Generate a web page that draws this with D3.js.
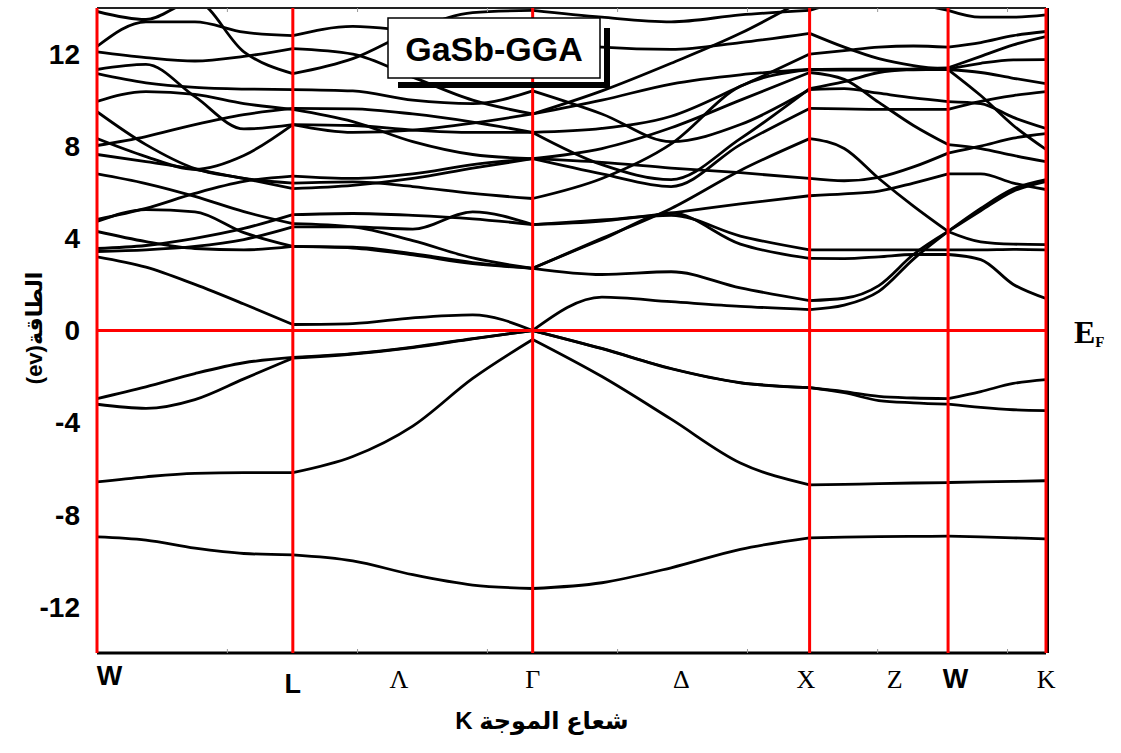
<!DOCTYPE html>
<html>
<head>
<meta charset="utf-8">
<script src="https://cdn.jsdelivr.net/npm/d3@7"></script>
<style>
  html, body { margin: 0; padding: 0; background: #fff; }
  svg { display: block; }
</style>
</head>
<body>
<svg id="chart" width="1121" height="753"></svg>
<script>
// k-path W-L-Γ-X-W-K (units of 2π/a), 4 steps per segment (3 on W-K)
const kGrid = [0, 0.1768, 0.3536, 0.5303, 0.7071, 0.9236, 1.1401, 1.3566, 1.5731,
  1.8231, 2.0731, 2.3231, 2.5731, 2.6981, 2.8231, 2.9481, 3.0731, 3.1910, 3.3088, 3.4267];
const symIndex = [0, 4, 8, 12, 16, 19];
const symK = [0, 0.7071, 1.5731, 2.5731, 3.0731, 3.4267];

const xLabels = ['W', 'L', 'Λ', 'Γ', 'Δ', 'X', 'Z', 'W', 'K'];
const xLabelK = [0.045, 0.7071, 1.09, 1.5731, 2.11, 2.56, 2.88, 3.10, 3.427];
const yTicks = [12, 8, 4, 0, -4, -8, -12];
const minorTicks = [0.469, 0.939, 1.408, 1.878, 2.347, 2.817, 3.286];

// energies (eV) at each kGrid point
const valenceBands = [
  [-8.96, -9.1, -9.45, -9.68, -9.74, -10.0, -10.6, -11.05, -11.2, -10.95, -10.3, -9.5, -9.0, -8.97, -8.95, -8.94, -8.93, -8.96, -9.0, -9.05],
  [-6.57, -6.35, -6.2, -6.17, -6.17, -5.47, -4.15, -2.08, -0.39, -2.0, -3.85, -5.75, -6.7, -6.68, -6.65, -6.62, -6.6, -6.57, -6.55, -6.52],
  [-2.96, -2.45, -1.87, -1.4, -1.17, -1.0, -0.72, -0.35, 0, -0.78, -1.65, -2.26, -2.48, -2.65, -2.86, -2.93, -2.96, -2.65, -2.3, -2.13],
  [-3.2, -3.38, -3.0, -2.1, -1.2, -1.02, -0.74, -0.36, 0, -0.79, -1.66, -2.27, -2.48, -2.7, -3.04, -3.14, -3.2, -3.34, -3.44, -3.48]
];

const conductionBands = [
  [3.2, 2.75, 2.0, 1.15, 0.26, 0.3, 0.55, 0.68, 0, 1.45, 1.25, 1.05, 0.91, 1.1, 1.7, 3.1, 4.3, 5.2, 6.05, 6.47],
  [3.43, 3.5, 3.65, 3.95, 4.5, 4.5, 4.4, 5.15, 4.6, 4.75, 5.1, 5.5, 5.85, 5.93, 6.05, 6.4, 6.8, 6.8, 6.4, 6.12],
  [3.56, 3.69, 4.0, 4.43, 5.03, 5.08, 5.0, 4.85, 4.6, 4.8, 5.0, 4.1, 3.5, 3.5, 3.5, 3.5, 3.5, 3.5, 3.52, 3.5],
  [4.3, 3.86, 3.56, 3.5, 3.65, 3.62, 3.34, 2.95, 2.7, 2.43, 2.55, 1.85, 1.3, 1.4, 1.95, 3.3, 4.3, 5.3, 6.15, 6.55],
  [4.73, 5.25, 5.15, 4.25, 3.65, 3.58, 3.28, 2.9, 2.7, 3.95, 5.1, 3.75, 3.13, 3.12, 3.2, 3.3, 3.3, 3.08, 2.0, 1.39],
  [4.82, 5.3, 5.95, 6.47, 6.7, 6.6, 6.8, 7.2, 7.46, 7.3, 7.05, 6.85, 6.6, 6.5, 6.65, 7.1, 7.7, 8.0, 8.35, 8.55],
  [6.8, 6.38, 5.82, 5.16, 4.64, 4.5, 3.9, 3.15, 2.7, 4.0, 5.3, 6.95, 8.33, 7.9, 6.6, 5.4, 4.3, 3.85, 3.75, 3.73],
  [7.64, 7.33, 7.0, 6.6, 6.4, 6.45, 6.25, 5.95, 5.73, 6.6, 8.1, 10.6, 11.33, 11.3, 11.3, 11.32, 11.33, 11.2, 10.95, 10.72],
  [8.03, 8.42, 8.94, 9.37, 9.64, 9.62, 9.4, 9.05, 8.6, 7.2, 6.55, 8.33, 10.5, 10.8, 11.2, 11.35, 11.4, 11.9, 12.4, 12.76],
  [8.33, 7.55, 7.0, 7.6, 8.94, 8.9, 8.7, 8.6, 8.6, 8.77, 9.3, 10.6, 12.0, 12.15, 12.3, 12.35, 12.3, 12.5, 12.8, 12.98],
  [9.5, 8.07, 7.03, 6.6, 6.16, 6.3, 6.6, 7.05, 7.46, 6.8, 6.25, 8.07, 9.64, 9.62, 9.6, 9.6, 9.6, 9.95, 10.2, 10.37],
  [9.94, 10.37, 10.25, 9.85, 9.6, 9.07, 8.2, 7.64, 7.46, 7.9, 8.8, 10.0, 11.2, 10.9, 9.9, 8.9, 8.07, 7.9, 7.6, 7.33],
  [11.15, 10.75, 10.55, 10.48, 10.46, 10.4, 10.0, 9.85, 10.4, 9.4, 8.2, 8.94, 10.46, 10.5, 10.3, 10.1, 9.94, 9.85, 9.25, 8.77],
  [11.33, 11.55, 10.15, 8.75, 8.94, 8.6, 8.7, 9.0, 9.4, 10.4, 11.6, 12.9, 14.5, 14.8, 14.8, 14.5, 14.3, 14.5, 14.6, 14.5],
  [12.1, 11.85, 11.7, 11.9, 12.24, 12.0, 11.0, 10.0, 9.4, 10.0, 10.7, 11.1, 11.33, 11.35, 11.35, 11.35, 11.35, 11.6, 11.75, 11.76],
  [12.33, 13.4, 13.4, 12.95, 12.8, 13.2, 13.0, 12.8, 12.6, 12.3, 12.2, 12.5, 12.9, 12.3, 11.8, 11.5, 11.33, 10.2, 8.9, 7.86],
  [13.85, 13.5, 14.3, 12.1, 11.15, 11.8, 13.0, 13.8, 13.9, 13.6, 13.4, 13.7, 13.9, 14.3, 14.5, 14.2, 13.9, 13.6, 13.6, 13.7]
];

const margin = { top: 8, right: 75, bottom: 100, left: 97 };
const width = 1046 - margin.left;
const height = 653 - margin.top;

const svg = d3.select('#chart');
const g = svg.append('g')
  .attr('transform', `translate(${margin.left},${margin.top})`);

const x = d3.scaleLinear().domain([0, 3.4267]).range([0, width]);
const y = d3.scaleLinear().domain([-14, 14]).range([height, 0]);

g.append('clipPath').attr('id', 'plot-clip')
  .append('rect').attr('width', width).attr('height', height);

// Bands, one path per segment so kinks at symmetry points stay sharp
const line = d3.line()
  .x(d => x(d[0]))
  .y(d => y(d[1]))
  .curve(d3.curveMonotoneX);

const bandLayer = g.append('g').attr('clip-path', 'url(#plot-clip)');
valenceBands.concat(conductionBands).forEach(band => {
  for (let s = 0; s < symIndex.length - 1; s++) {
    const pts = [];
    for (let i = symIndex[s]; i <= symIndex[s + 1]; i++) pts.push([kGrid[i], band[i]]);
    bandLayer.append('path')
      .datum(pts)
      .attr('fill', 'none')
      .attr('stroke', '#000')
      .attr('stroke-width', 2.8)
      .attr('d', line);
  }
});

// Frame
g.append('line').attr('x1', 0).attr('x2', width).attr('y1', 0).attr('y2', 0)
  .attr('stroke', '#222').attr('stroke-width', 2);
g.append('line').attr('x1', 0).attr('x2', width).attr('y1', height).attr('y2', height)
  .attr('stroke', '#000').attr('stroke-width', 3);
g.append('line').attr('x1', width + 2).attr('x2', width + 2).attr('y1', 0).attr('y2', height)
  .attr('stroke', '#000').attr('stroke-width', 2);

// Small grey ticks on top and bottom
g.append('g')
  .attr('transform', `translate(0,${height})`)
  .call(d3.axisTop(x).tickValues(minorTicks).tickSize(4).tickFormat(''))
  .call(a => a.select('.domain').remove())
  .selectAll('line').attr('stroke', '#999');
g.append('g')
  .call(d3.axisBottom(x).tickValues(minorTicks).tickSize(4).tickFormat(''))
  .call(a => a.select('.domain').remove())
  .selectAll('line').attr('stroke', '#999');

// Red symmetry lines and Fermi level
g.selectAll('.sym')
  .data(symK)
  .enter().append('line')
  .attr('x1', d => x(d)).attr('x2', d => x(d))
  .attr('y1', 0).attr('y2', height)
  .attr('stroke', '#ff0000')
  .attr('stroke-width', 3);
g.append('line')
  .attr('x1', 0).attr('x2', width)
  .attr('y1', y(0)).attr('y2', y(0))
  .attr('stroke', '#ff0000')
  .attr('stroke-width', 3);

// Y tick labels
g.selectAll('.ylab')
  .data(yTicks)
  .enter().append('text')
  .attr('x', -17)
  .attr('y', d => y(d))
  .attr('dy', '0.35em')
  .attr('text-anchor', 'end')
  .style('font-family', '"Liberation Sans", Arial, sans-serif')
  .style('font-weight', 'bold')
  .style('font-size', '28px')
  .text(d => d);

// X tick labels
g.selectAll('.xlab')
  .data(xLabels)
  .enter().append('text')
  .attr('x', (d, i) => x(xLabelK[i]))
  .attr('y', (d, i) => d === 'L' ? height + 40 : (i === 0 ? height + 32 : height + 35))
  .attr('text-anchor', 'middle')
  .style('font-family', d => (d === 'W' || d === 'L') ? '"Liberation Sans", Arial, sans-serif' : '"Liberation Serif", "Times New Roman", serif')
  .style('font-weight', d => (d === 'W' || d === 'L') ? 'bold' : 'normal')
  .style('font-size', d => (d === 'W' || d === 'L') ? '27px' : '26px')
  .text(d => d);

// Axis titles
svg.append('text')
  .attr('x', 542)
  .attr('y', 729)
  .attr('text-anchor', 'middle')
  .attr('direction', 'ltr')
  .style('font-family', '"Liberation Sans", "DejaVu Sans", sans-serif')
  .style('font-weight', 'bold')
  .style('font-size', '24px')
  .text('K شعاع الموجة');

svg.append('text')
  .attr('transform', 'translate(42,328) rotate(-90)')
  .attr('text-anchor', 'middle')
  .attr('direction', 'ltr')
  .style('font-family', '"Liberation Sans", "DejaVu Sans", sans-serif')
  .style('font-weight', 'bold')
  .style('font-size', '22px')
  .text('(ev)الطاقة');

// E_F marker
const ef = svg.append('text')
  .attr('x', 1074)
  .attr('y', 343)
  .style('font-family', '"Liberation Serif", "Times New Roman", serif')
  .style('font-weight', 'bold')
  .style('font-size', '32px');
ef.append('tspan').text('E');
ef.append('tspan').attr('dy', 4).style('font-size', '15px').text('F');

// Title box with shadow
svg.append('rect').attr('x', 604).attr('y', 28).attr('width', 6).attr('height', 60).attr('fill', '#000');
svg.append('rect').attr('x', 398).attr('y', 82).attr('width', 212).attr('height', 6).attr('fill', '#000');
svg.append('rect')
  .attr('x', 388).attr('y', 18).attr('width', 212).attr('height', 60)
  .attr('fill', '#fff').attr('stroke', '#000').attr('stroke-width', 1.5);
svg.append('text')
  .attr('x', 494)
  .attr('y', 61)
  .attr('text-anchor', 'middle')
  .style('font-family', '"Liberation Sans", Arial, sans-serif')
  .style('font-weight', 'bold')
  .style('font-size', '34px')
  .text('GaSb-GGA');
</script>
</body>
</html>
